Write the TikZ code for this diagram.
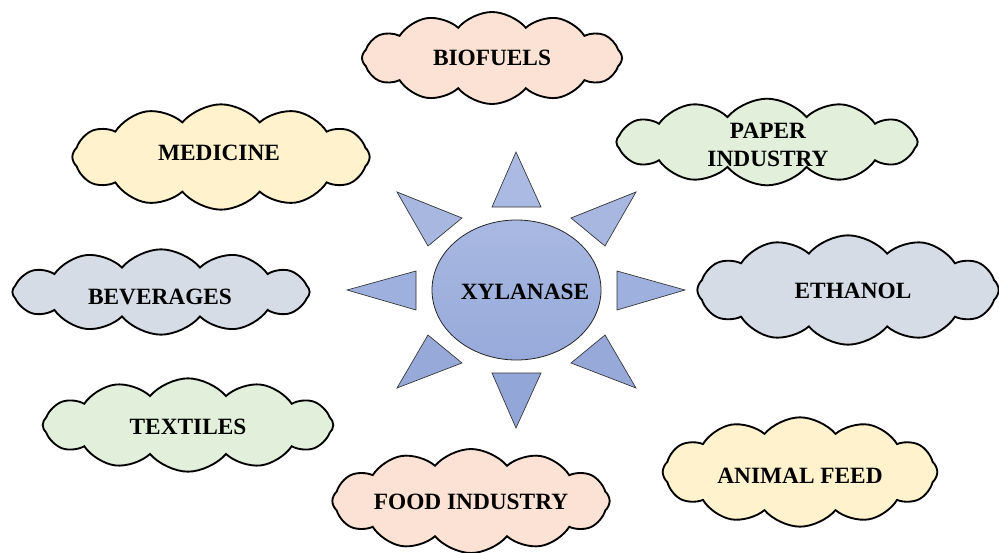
\documentclass[tikz,border=0pt]{standalone}
\usepackage{fontspec}
\setmainfont{Liberation Serif}
\usetikzlibrary{shapes.symbols,shapes.geometric}
\definecolor{peach}{HTML}{FBE2D5}
\definecolor{cream}{HTML}{FFF2CC}
\definecolor{lgreen}{HTML}{E2EFDA}
\definecolor{lgrey}{HTML}{D6DCE5}
\definecolor{suntop}{HTML}{AABAE2}
\definecolor{sunbot}{HTML}{93A6D8}
\tikzset{
  cloudbox/.style={cloud, cloud puffs=12, cloud puff arc=100, draw=black, line width=1.4pt, inner sep=0pt, minimum width=#1},
  lbl/.style={font=\bfseries\fontsize{17.5}{21}\selectfont, align=center, text=black},
  ray/.style={draw=black!80, line width=0.5pt, fill=#1},
}
\begin{document}
\begin{tikzpicture}[x=0.75pt,y=-0.75pt]
\useasboundingbox (0,0) rectangle (999,553);
\clip (0,0) rectangle (999,553);
% clouds
\node[cloudbox=195pt, minimum height=69pt, fill=peach] (biofuels) at (492,58) {};
\node[cloudbox=223pt, minimum height=79pt, fill=cream] (medicine) at (221,157) {};
\node[cloudbox=226pt, minimum height=65pt, fill=lgreen] (paper) at (767,142) {};
\node[cloudbox=223pt, minimum height=64pt, fill=lgrey] (beverages) at (161,292) {};
\node[cloudbox=226pt, minimum height=82pt, fill=lgrey] (ethanol) at (848,290) {};
\node[cloudbox=218pt, minimum height=70pt, fill=lgreen] (textiles) at (188,425) {};
\node[cloudbox=208pt, minimum height=78pt, fill=peach] (food) at (471,501) {};
\node[cloudbox=206pt, minimum height=82pt, fill=cream] (feed) at (800,472) {};
\node[lbl] (tbiofuels) at (492,58) {BIOFUELS};
\node[lbl] (tmedicine) at (219,153) {MEDICINE};
\node[lbl] (tpaper) at (768,145) {PAPER\\INDUSTRY};
\node[lbl] (tbeverages) at (160,297) {BEVERAGES};
\node[lbl] (tethanol) at (853,291) {ETHANOL};
\node[lbl] (ttextiles) at (188,427) {TEXTILES};
\node[lbl] (tfood) at (471,502) {FOOD INDUSTRY};
\node[lbl] (tfeed) at (800,476) {ANIMAL FEED};
% sun rays
\draw[ray=suntop] (516,152) -- (541,207) -- (492,207) -- cycle;
\draw[ray=sunbot] (516,428) -- (541,373) -- (492,373) -- cycle;
\draw[ray=suntop!50!sunbot] (347,290) -- (416,271) -- (416,310) -- cycle;
\draw[ray=suntop!50!sunbot] (685,290) -- (617,271) -- (617,310) -- cycle;
\draw[ray=suntop!85!sunbot] (397,192) -- (462,218) -- (428,246) -- cycle;
\draw[ray=suntop!85!sunbot] (636,192) -- (571,218) -- (605,246) -- cycle;
\draw[ray=suntop!15!sunbot] (397,388) -- (462,363) -- (428,335) -- cycle;
\draw[ray=suntop!15!sunbot] (636,388) -- (571,363) -- (605,335) -- cycle;
% center
\node[ellipse, draw=black!85, line width=0.6pt, top color=suntop!90!sunbot, bottom color=suntop!20!sunbot, minimum width=126.75pt, minimum height=105pt, inner sep=0pt] (xyl) at (516.5,290) {};
\node[lbl] (txyl) at (525,292) {XYLANASE};
\end{tikzpicture}
\end{document}
